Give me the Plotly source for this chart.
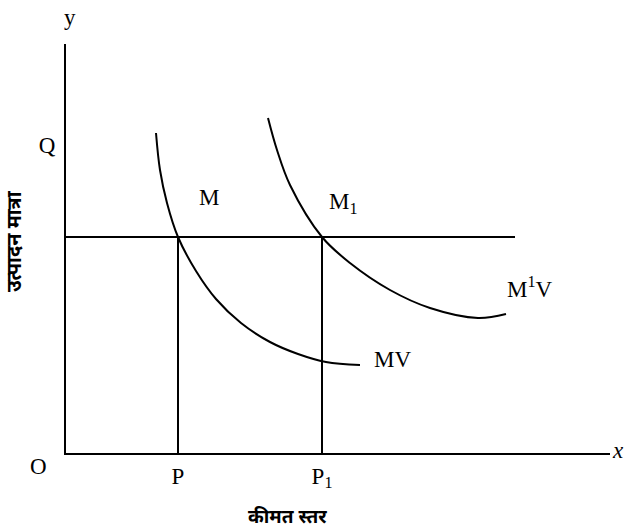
import plotly.graph_objects as go

# ---- data (economic units) ----
P = 11.2
P1 = 25.6
Q = 30.8
Y_LINE = 21.6
X_END = 54.4
Y_END = 40.9
H_LINE_END = 44.9

mv_x = [9.0, 9.4, 10.1, 11.2, 13.0, 15.0, 17.5, 20.4, 23.2, 26.0, 29.4]
mv_y = [32.0, 28.3, 25.0, 21.6, 18.2, 15.4, 13.0, 11.1, 9.9, 9.1, 8.8]

m1v_x = [20.2, 21.1, 22.4, 25.6, 28.4, 32.4, 36.4, 41.2, 44.0]
m1v_y = [33.5, 30.3, 26.8, 21.6, 19.0, 16.3, 14.5, 13.5, 13.9]

x_ticks = [P, P1]
x_tick_text = ["P", "P<sub>1</sub>"]
y_ticks = [Q]
y_tick_text = ["Q"]

SERIF = "Liberation Serif, Times New Roman, serif"
DEVA = "Noto Sans Devanagari, Lohit Devanagari, Noto Sans, sans-serif"
LINE = dict(color="black", width=2)

fig = go.Figure()
fig.add_trace(go.Scatter(x=mv_x, y=mv_y, mode="lines",
                         line=dict(color="black", width=2, shape="spline", smoothing=1)))
fig.add_trace(go.Scatter(x=m1v_x, y=m1v_y, mode="lines",
                         line=dict(color="black", width=2, shape="spline", smoothing=1)))
# horizontal output line
fig.add_trace(go.Scatter(x=[0, H_LINE_END], y=[Y_LINE, Y_LINE], mode="lines", line=LINE))
# vertical lines at P and P1
fig.add_trace(go.Scatter(x=[P, P], y=[0, Y_LINE], mode="lines", line=LINE))
fig.add_trace(go.Scatter(x=[P1, P1], y=[0, Y_LINE], mode="lines", line=LINE))

fig.update_xaxes(range=[0, X_END], showline=True, linecolor="black", linewidth=2,
                 showgrid=False, zeroline=False, ticks="",
                 tickvals=x_ticks, ticktext=x_tick_text,
                 tickfont=dict(family=SERIF, size=23, color="black"),
                 ticklabelstandoff=1)
fig.update_yaxes(range=[0, Y_END], showline=True, linecolor="black", linewidth=2,
                 showgrid=False, zeroline=False, ticks="",
                 tickvals=y_ticks, ticktext=y_tick_text,
                 tickfont=dict(family=SERIF, size=23, color="black"),
                 ticklabelstandoff=4)

ann = []
def txt(text, x, y, xref="x", yref="y", size=23, family=SERIF, angle=0, bold=False):
    ann.append(dict(text=text, x=x, y=y, xref=xref, yref=yref, showarrow=False,
                    xanchor="center", yanchor="middle", textangle=angle,
                    font=dict(family=family, size=size, color="black",
                              weight="bold" if bold else "normal")))

txt("M", 14.3, 25.6)
txt("M<sub>1</sub>", 27.7, 25.0)
txt("M<sup>1</sup>V", 46.4, 16.6)
txt("MV", 32.6, 9.4)
txt("y", 0.007, 1.064, "paper", "paper")
txt("O", -0.051, -0.032, "paper", "paper")
txt("<i>x</i>", 1.014, 0.005, "paper", "paper")
txt("कीमत स्तर", 0.408, -0.159, "paper", "paper", size=19, family=DEVA, bold=True)
txt("उत्पादन मात्रा", -0.092, 0.518, "paper", "paper", size=20, family=DEVA, angle=-90, bold=True)

fig.update_layout(width=627, height=531, showlegend=False,
                  margin=dict(l=66, r=17, t=44, b=78),
                  plot_bgcolor="white", paper_bgcolor="white",
                  annotations=ann)

fig.write_html("out.html", config={"displayModeBar": False},
               post_script="document.body.style.margin='0';document.body.style.overflow='hidden';")
